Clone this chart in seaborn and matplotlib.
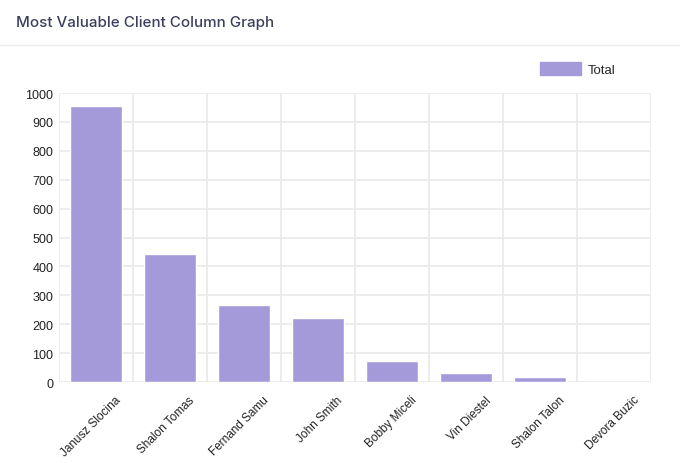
import matplotlib
matplotlib.use("Agg")
import matplotlib.pyplot as plt
import matplotlib.transforms as mtransforms
from matplotlib.patches import Patch
import seaborn as sns
import pandas as pd
import numpy as np

clients = ["Janusz Slocina", "Shalon Tomas", "Fernand Samu", "John Smith",
           "Bobby Miceli", "Vin Diestel", "Shalon Talon", "Devora Buzic"]
totals = [955, 443, 266, 221, 73, 31, 17, 0]
y_ticks = [0, 100, 200, 300, 400, 500, 600, 700, 800, 900, 1000]
series_name = "Total"
title = "Most Valuable Client Column Graph"

sns.set_style("white")
plt.rcParams['font.family'] = ['Liberation Sans', 'DejaVu Sans']

df = pd.DataFrame({"client": clients, "total": totals})

fig = plt.figure(figsize=(6.8, 4.64), dpi=100)
ax = fig.add_axes([59/680, 1-383/464, (651-59)/680, (383-94)/464])

bar_color = "#a59ad9"
sns.barplot(data=df, x="client", y="total", color=bar_color, width=0.69,
            saturation=1, ax=ax, zorder=3)

ax.set_xlim(-0.5, len(clients) - 0.5)
ax.set_ylim(0, 1000)
ax.set_yticks(y_ticks)
ax.set_xticks(np.arange(-0.5, len(clients)), minor=True)
ax.grid(False)
ax.grid(True, which="minor", axis="x", color="#ebebeb", lw=1.3, zorder=0)
ax.grid(True, which="major", axis="y", color="#ebebeb", lw=1.3, zorder=0)
for s in ax.spines.values():
    s.set_visible(False)
ax.tick_params(axis="both", which="both", length=0)
ax.tick_params(axis="y", pad=4, labelsize=9, labelcolor="#222222")
ax.set_xlabel("")
ax.set_ylabel("")

offset = mtransforms.ScaledTranslation(23/100, -11/100, fig.dpi_scale_trans)
for lbl in ax.get_xticklabels():
    lbl.set_rotation(45)
    lbl.set_rotation_mode("anchor")
    lbl.set_ha("right")
    lbl.set_va("center")
    lbl.set_fontsize(8.5)
    lbl.set_color("#222222")
    lbl.set_transform(lbl.get_transform() + offset)

fig.text(16/680, 1-23/464, title, fontsize=10.9, color="#3b3f5c",
         family=["Inter", "DejaVu Sans"], fontweight="medium",
         va="center", ha="left")
fig.add_artist(plt.Line2D([0, 1], [1-46/464, 1-46/464], color="#ececec", lw=1))

handle = Patch(facecolor=bar_color, edgecolor=bar_color)
fig.legend([handle], [series_name], loc="center left",
           bbox_to_anchor=(528/680, 1-70/464), frameon=False, fontsize=9.5,
           handlelength=3.1, handleheight=1.15, handletextpad=0.55)

fig.savefig("out.png", dpi=100, facecolor="white")
